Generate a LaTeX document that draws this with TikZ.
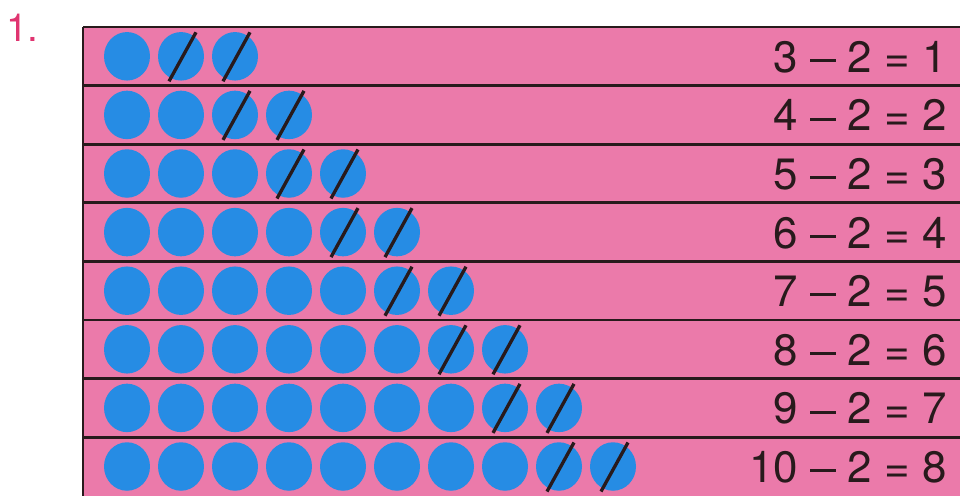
\documentclass[tikz,border=0pt]{standalone}
\usepackage{fontspec}
\setmainfont{TeX Gyre Heros}
\usepackage{tikz}
\usetikzlibrary{shapes.geometric}
\definecolor{rowpink}{RGB}{235,122,170}
\definecolor{dotblue}{RGB}{38,140,228}
\definecolor{numpink}{RGB}{224,52,112}
\definecolor{inkdark}{RGB}{40,26,28}
\newcommand{\minusbar}{\raisebox{0.235em}{\rule{0.57em}{0.07em}}}

\begin{document}
\begin{tikzpicture}[x=0.02cm,y=-0.02cm,
  rowbox/.style={fill=rowpink,draw=none,anchor=north west,minimum width=18cm,minimum height=1.172cm,inner sep=0pt},
  rule/.style={draw=inkdark,line width=1.6pt},
  dot/.style={ellipse,fill=dotblue,minimum width=0.92cm,minimum height=0.97cm,inner sep=0pt},
  strike/.style={draw=inkdark,line width=1.9pt},
  eqtext/.style={font=\fontsize{25}{30}\selectfont,text=inkdark,anchor=base east,inner sep=0pt}]
\useasboundingbox (0,0) rectangle (960,495);
\node[font=\fontsize{22}{26}\selectfont,text=numpink,anchor=base west,inner sep=0pt] (num) at (6,41) {1.};
% one row per task: n dots, the last two struck out
\foreach \n [count=\r from 0] in {3,...,10} {
  \pgfmathtruncatemacro{\d}{\n-2}
  \pgfmathsetmacro{\yc}{27+58.6*\r+29.3}
  \node[rowbox] (row\r) at (83,{27+58.6*\r}) {};
  \foreach \k in {1,...,\n} {
    \node[dot] (d\r-\k) at ({127+54*(\k-1)},\yc) {};
    \ifnum\k>\d
      \draw[strike] ([shift={(-12,25)}]d\r-\k.center) -- ++(27,-49);
    \fi
  }
  \node[eqtext] (eq\r) at (947,{\yc+16}) {\n{} \minusbar{} 2 = \d};
  \draw[rule] (row\r.north west) -- (row\r.north east);
}
\draw[rule] (row0.north west) -- (row7.south west);
\end{tikzpicture}
\end{document}
